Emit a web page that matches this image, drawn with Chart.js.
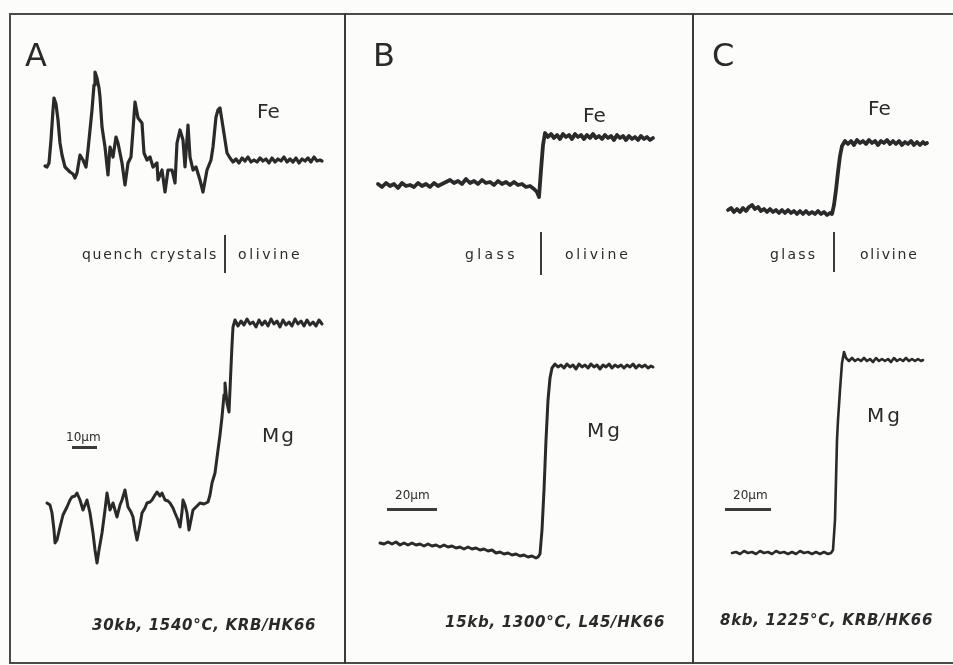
<!DOCTYPE html>
<html>
<head>
<meta charset="utf-8">
<script src="https://cdn.jsdelivr.net/npm/chart.js@4.4.0/dist/chart.umd.min.js"></script>
<style>
  html, body { margin: 0; padding: 0; background: #fcfcfb; }
  #fig { position: relative; width: 953px; height: 665px; overflow: hidden; font-family: "DejaVu Sans", sans-serif; color: #2a2a2a; }
  canvas { position: absolute; }
  .frame { position: absolute; border: 2px solid #4a4a4a; }
  .vline { position: absolute; background: #3a3a3a; }
  .t { position: absolute; line-height: 1; white-space: nowrap; }
  .big { font-size: 32px; }
  .el { font-size: 20px; }
  .mid { font-size: 14px; }
  .sc { font-size: 12px; }
  .cap { font-size: 15px; font-style: italic; font-weight: bold; letter-spacing: 0.7px; }
</style>
</head>
<body>
<div id="fig">
  <div class="frame" style="left:9px;top:13px;width:960px;height:647px;"></div>
  <div class="vline" style="left:344px;top:13px;width:2px;height:651px;"></div>
  <div class="vline" style="left:692px;top:13px;width:2px;height:651px;"></div>

  <canvas id="cA" style="left:11px;top:15px;" width="333" height="645"></canvas>
  <canvas id="cB" style="left:346px;top:15px;" width="346" height="645"></canvas>
  <canvas id="cC" style="left:694px;top:15px;" width="259" height="645"></canvas>

  <!-- panel A -->
  <div class="t big" style="left:25px;top:39px;">A</div>
  <div class="t el" style="left:257px;top:101px;">Fe</div>
  <div class="t mid" style="left:82px;top:247px;letter-spacing:1.7px;">quench crystals</div>
  <div class="vline" style="left:224px;top:235px;width:2px;height:38px;"></div>
  <div class="t mid" style="left:238px;top:247px;letter-spacing:2.6px;">olivine</div>
  <div class="t el" style="left:262px;top:425px;letter-spacing:2px;">Mg</div>
  <div class="t sc" style="left:66px;top:431px;">10µm</div>
  <div class="vline" style="left:72px;top:446px;width:25px;height:3px;"></div>
  <div class="t cap" style="left:92px;top:618px;">30kb, 1540°C, KRB/HK66</div>

  <!-- panel B -->
  <div class="t big" style="left:373px;top:39px;">B</div>
  <div class="t el" style="left:583px;top:105px;">Fe</div>
  <div class="t mid" style="left:465px;top:247px;letter-spacing:3.4px;">glass</div>
  <div class="vline" style="left:540px;top:232px;width:2px;height:43px;"></div>
  <div class="t mid" style="left:565px;top:247px;letter-spacing:2.8px;">olivine</div>
  <div class="t el" style="left:587px;top:420px;letter-spacing:3px;">Mg</div>
  <div class="t sc" style="left:395px;top:489px;">20µm</div>
  <div class="vline" style="left:387px;top:508px;width:50px;height:3px;"></div>
  <div class="t cap" style="left:445px;top:615px;">15kb, 1300°C,  L45/HK66</div>

  <!-- panel C -->
  <div class="t big" style="left:712px;top:39px;">C</div>
  <div class="t el" style="left:868px;top:98px;">Fe</div>
  <div class="t mid" style="left:770px;top:247px;letter-spacing:2.3px;">glass</div>
  <div class="vline" style="left:833px;top:232px;width:2px;height:40px;"></div>
  <div class="t mid" style="left:860px;top:247px;letter-spacing:1.8px;">olivine</div>
  <div class="t el" style="left:867px;top:405px;letter-spacing:3px;">Mg</div>
  <div class="t sc" style="left:733px;top:489px;">20µm</div>
  <div class="vline" style="left:725px;top:508px;width:46px;height:3px;"></div>
  <div class="t cap" style="left:720px;top:613px;">8kb, 1225°C, KRB/HK66</div>
</div>

<script>
// microprobe traces: [scan position, signal level]
// (figure units; signal axis runs downward like the print)

// A: 30kb, 1540C - quench crystals | olivine
const feA = [
  [45,166],[47,167],[49,163],[51,140],[53,110],[54,98],[56,104],[58,120],[60,143],[62,155],
  [65,167],[68,170],[70,172],[73,174],[75,178],[77,173],[80,155],[83,160],[86,167],[88,150],
  [90,130],[92,110],[94,85],[95,72],[97,78],[99,88],[100,97],[102,127],[105,147],[108,175],
  [110,147],[113,157],[116,137],[118,143],[120,153],[122,163],[125,185],[128,163],[131,157],[133,130],
  [135,102],[138,118],[142,123],[144,153],[147,160],[150,157],[153,167],[157,163],[158,180],[162,170],
  [165,192],[168,170],[172,170],[175,183],[177,143],[180,130],[183,140],[185,167],[188,125],[190,157],
  [193,170],[196,167],[200,180],[203,192],[207,170],[211,160],[213,147],[216,117],[218,110],[220,108],
  [223,127],[227,153],[230,158],[233,162],[236,159],[239,163],[242,158],[245,161],[248,157],[251,162],
  [254,160],[257,162],[260,158],[263,161],[266,159],[269,163],[272,158],[275,162],[278,159],[281,161],
  [284,157],[287,162],[290,159],[293,162],[296,158],[299,163],[302,159],[305,161],[308,158],[311,162],
  [314,157],[317,161],[320,160],[322,161]
];
const mgA = [
  [47,503],[50,505],[52,513],[54,530],[55,543],[57,540],[60,527],[63,515],[67,507],[70,500],
  [72,497],[75,496],[77,493],[80,500],[83,510],[85,505],[87,500],[90,513],[93,533],[95,550],
  [97,563],[99,550],[102,533],[105,510],[107,493],[110,510],[113,503],[117,517],[120,505],[122,500],
  [125,490],[128,507],[131,512],[133,517],[135,530],[137,540],[140,525],[142,513],[145,508],[147,503],
  [150,502],[152,500],[155,495],[157,492],[160,496],[162,493],[165,500],[168,501],[170,503],[173,508],
  [175,513],[178,520],[180,527],[182,512],[183,500],[185,505],[187,513],[189,530],[191,520],[193,510],
  [196,507],[200,503],[204,504],[208,502],[210,495],[212,483],[215,473],[218,450],[220,435],[222,417],
  [224,395],[225,383],[227,403],[229,412],[231,367],[232,345],[233,327],[235,320],[238,326],[241,321],
  [244,325],[247,319],[250,324],[253,322],[256,327],[259,320],[262,325],[265,321],[268,326],[271,319],
  [274,324],[277,321],[280,327],[283,320],[286,325],[289,322],[292,326],[295,319],[298,324],[301,321],
  [304,326],[307,320],[310,325],[313,322],[316,326],[319,320],[322,324]
];

// B: 15kb, 1300C - glass | olivine
const feB = [
  [378,184],[382,187],[386,183],[390,186],[394,184],[398,188],[402,183],[406,186],[410,185],[414,187],
  [418,183],[422,186],[426,184],[430,187],[434,183],[438,186],[442,184],[446,182],[450,180],[454,183],
  [458,181],[462,184],[466,179],[470,183],[474,181],[478,184],[482,180],[486,183],[490,182],[494,185],
  [498,181],[502,184],[506,182],[510,185],[514,182],[518,185],[522,184],[526,187],[530,186],[534,189],
  [537,192],[539,197],[541,170],[543,145],[545,133],[548,137],[551,134],[554,138],[557,135],[560,139],
  [563,134],[566,137],[569,135],[572,139],[575,134],[578,137],[581,135],[584,139],[587,135],[590,138],
  [593,134],[596,138],[599,136],[602,139],[605,135],[608,138],[611,136],[614,140],[617,135],[620,138],
  [623,136],[626,140],[629,136],[632,139],[635,137],[638,140],[641,136],[644,139],[647,137],[650,140],
  [653,138]
];
const mgB = [
  [380,543],[384,544],[388,542],[392,544],[396,542],[400,545],[404,543],[408,545],[412,543],[416,545],
  [420,544],[424,546],[428,544],[432,546],[436,545],[440,547],[444,545],[448,547],[452,546],[456,548],
  [460,547],[464,549],[468,547],[472,549],[476,548],[480,550],[484,549],[488,551],[492,550],[496,553],
  [500,552],[504,554],[508,553],[512,555],[516,554],[520,556],[524,555],[528,557],[532,556],[536,558],
  [538,557],[540,554],[542,530],[544,490],[546,440],[548,400],[550,378],[552,368],[555,364],[558,367],
  [561,365],[564,368],[567,364],[570,367],[573,365],[576,369],[579,364],[582,367],[585,365],[588,368],
  [591,364],[594,367],[597,365],[600,369],[603,365],[606,367],[609,364],[612,368],[615,365],[618,367],
  [621,365],[624,368],[627,365],[630,367],[633,364],[636,368],[639,365],[642,367],[645,365],[648,368],
  [651,366],[653,367]
];

// C: 8kb, 1225C - glass | olivine
const feC = [
  [728,210],[731,208],[734,212],[737,209],[740,212],[743,208],[746,211],[749,207],[752,205],[755,209],
  [758,207],[761,211],[764,209],[767,212],[770,209],[773,212],[776,210],[779,213],[782,210],[785,213],
  [788,210],[791,213],[794,211],[797,214],[800,211],[803,214],[806,211],[809,214],[812,212],[815,214],
  [818,211],[821,214],[824,212],[827,215],[830,213],[832,214],[834,205],[836,190],[838,172],[840,156],
  [842,146],[845,141],[848,144],[851,141],[854,145],[857,140],[860,143],[863,141],[866,144],[869,140],
  [872,143],[875,141],[878,145],[881,141],[884,143],[887,140],[890,144],[893,141],[896,144],[899,141],
  [902,145],[905,142],[908,144],[911,141],[914,145],[917,142],[920,145],[923,142],[925,144],[927,143]
];
const mgC = [
  [732,553],[736,552],[740,554],[744,551],[748,553],[752,552],[756,554],[760,551],[764,553],[768,552],
  [772,554],[776,551],[780,553],[784,552],[788,554],[792,552],[796,554],[800,551],[804,553],[808,552],
  [812,554],[816,552],[820,554],[824,552],[828,554],[831,553],[833,550],[835,520],[836,480],[837,440],
  [838,420],[840,390],[842,363],[844,352],[846,358],[849,361],[852,358],[855,361],[858,359],[861,361],
  [864,358],[867,361],[870,359],[873,362],[876,358],[879,361],[882,359],[885,361],[888,359],[891,362],
  [894,358],[897,361],[900,359],[903,361],[906,358],[909,361],[912,359],[915,361],[918,359],[921,361],
  [923,360]
];

const ink = '#2a2a2a';

function toPoints(arr) {
  return arr.map(p => ({ x: p[0], y: p[1] }));
}

function trace(label, arr, w) {
  return {
    label: label,
    data: toPoints(arr),
    showLine: true,
    borderColor: ink,
    borderWidth: w,
    borderJoinStyle: 'round',
    borderCapStyle: 'round',
    pointRadius: 0,
    tension: 0
  };
}

function makePanel(id, x0, x1, y0, y1, datasets) {
  new Chart(document.getElementById(id), {
    type: 'scatter',
    data: { datasets: datasets },
    options: {
      responsive: false,
      animation: false,
      devicePixelRatio: 1,
      layout: { padding: 0 },
      plugins: { legend: { display: false }, tooltip: { enabled: false } },
      scales: {
        x: { type: 'linear', min: x0, max: x1, display: false },
        y: { type: 'linear', min: y0, max: y1, reverse: true, display: false }
      }
    }
  });
}

makePanel('cA', 11, 344, 15, 660, [trace('Fe', feA, 3.2), trace('Mg', mgA, 3)]);
makePanel('cB', 346, 692, 15, 660, [trace('Fe', feB, 3.8), trace('Mg', mgB, 3)]);
makePanel('cC', 694, 953, 15, 660, [trace('Fe', feC, 3.8), trace('Mg', mgC, 2.6)]);
</script>
</body>
</html>
